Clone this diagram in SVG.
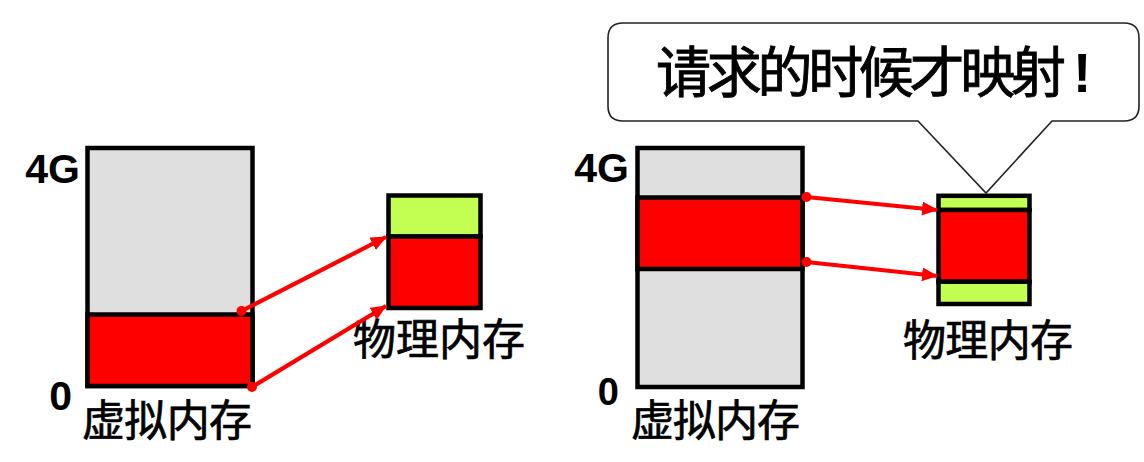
<svg xmlns="http://www.w3.org/2000/svg" width="1144" height="462" viewBox="0 0 1144 462">
<style>
.box{stroke:#000;stroke-width:4.5}
.gray{fill:#DFDFDF}
.red{fill:#FF0000}
.green{fill:#C2FF52}
.axis{font-family:"Liberation Sans",Arial,sans-serif;font-weight:bold;font-size:41px;fill:#000;text-anchor:end}
.cjk{font-family:"Noto Sans CJK SC","Noto Sans CJK TC",sans-serif;font-size:43px;fill:#000;stroke:#000;stroke-width:0.7}
.arrow{stroke:#FF0000;stroke-width:4.2;fill:none}
.dot{fill:#FF0000}
</style>
<defs>
<marker id="ah" viewBox="0 0 16 14" refX="15" refY="7" markerWidth="16" markerHeight="14" markerUnits="userSpaceOnUse" orient="auto">
<path d="M0,0 L16,7 L0,14 Z" fill="#FF0000"/>
</marker>
</defs>

<g id="left-virtual">
<rect class="box gray" x="87.5" y="148" width="165" height="238"/>
<rect class="box red" x="87.5" y="314.5" width="165" height="71.5"/>
<text class="axis" x="80" y="183">4G</text>
<text class="axis" x="72" y="410">0</text>
<text class="cjk" x="82" y="436" textLength="170" lengthAdjust="spacing">虚拟内存</text>
</g>

<g id="left-physical">
<rect class="box green" x="388.5" y="195.5" width="92" height="41"/>
<rect class="box red" x="388.5" y="236.5" width="92" height="71.5"/>
<text class="cjk" x="353" y="355" textLength="172" lengthAdjust="spacing">物理内存</text>
</g>

<g id="right-virtual">
<rect class="box gray" x="637.5" y="148" width="165" height="239"/>
<rect class="box red" x="637.5" y="197.5" width="165" height="71.5"/>
<text class="axis" x="629" y="182">4G</text>
<text class="axis" x="619" y="405" style="font-size:38px">0</text>
<text class="cjk" x="631" y="436" textLength="169" lengthAdjust="spacing">虚拟内存</text>
</g>

<g id="right-physical">
<rect class="box green" x="938.5" y="195.8" width="91" height="14.2"/>
<rect class="box red" x="938.5" y="210" width="91" height="71.7"/>
<rect class="box green" x="938.5" y="281.7" width="91" height="22.3"/>
<text class="cjk" x="903" y="356" textLength="170" lengthAdjust="spacing">物理内存</text>
</g>

<g id="callout">
<path d="M623,23 H1124 Q1139,23 1139,38 V106 Q1139,121 1124,121 H1052 L986,193 L918,121 H623 Q608,121 608,106 V38 Q608,23 623,23 Z" fill="#FFFFFF" stroke="#222" stroke-width="1.6"/>
<text x="656" y="92" textLength="410" lengthAdjust="spacing" style="font-family:'Noto Sans CJK SC','Noto Sans CJK TC',sans-serif;font-size:55px;fill:#000;stroke:#000;stroke-width:0.9">请求的时候才映射</text>
<text x="1073" y="92" style="font-family:'Liberation Sans',Arial,sans-serif;font-weight:bold;font-size:55px;fill:#000">!</text>
</g>

<g id="connectors">
<circle class="dot" cx="241.5" cy="311" r="5"/>
<line class="arrow" x1="241.5" y1="311" x2="386" y2="237" marker-end="url(#ah)"/>
<circle class="dot" cx="252" cy="387" r="5"/>
<line class="arrow" x1="252" y1="387" x2="386" y2="306" marker-end="url(#ah)"/>
<circle class="dot" cx="806.5" cy="197" r="5"/>
<line class="arrow" x1="806.5" y1="197" x2="937" y2="210" marker-end="url(#ah)"/>
<circle class="dot" cx="806.5" cy="262" r="5"/>
<line class="arrow" x1="806.5" y1="262" x2="937" y2="276" marker-end="url(#ah)"/>
</g>
</svg>
